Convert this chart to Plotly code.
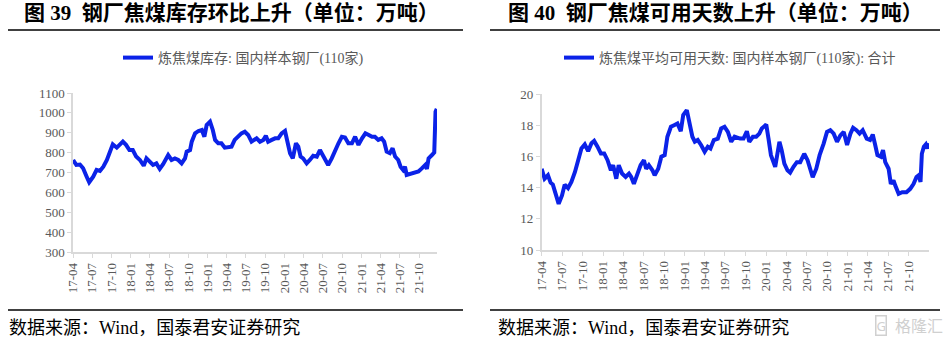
import plotly.graph_objects as go

# ---- data: weekly coking-coal readings, 110 sample steel mills ----
stock_dates = [
    "2017-04-02", "2017-04-17", "2017-05-04", "2017-05-19", "2017-06-05", "2017-06-17",
    "2017-07-06", "2017-07-22", "2017-08-07", "2017-08-23", "2017-09-09", "2017-09-24",
    "2017-10-07", "2017-10-26", "2017-11-11", "2017-11-24", "2017-12-09", "2017-12-25",
    "2018-01-10", "2018-01-26", "2018-02-13", "2018-03-03", "2018-03-16", "2018-04-01",
    "2018-04-16", "2018-05-02", "2018-05-18", "2018-06-03", "2018-06-27", "2018-07-13",
    "2018-07-29", "2018-08-14", "2018-08-30", "2018-09-15", "2018-09-23", "2018-10-09",
    "2018-10-17", "2018-11-02", "2018-11-18", "2018-12-04", "2018-12-16", "2018-12-27",
    "2019-01-12", "2019-01-25", "2019-02-05", "2019-02-20", "2019-03-07", "2019-03-23",
    "2019-04-08", "2019-04-24", "2019-05-09", "2019-05-25", "2019-06-10", "2019-06-26",
    "2019-07-12", "2019-07-28", "2019-08-21", "2019-09-06", "2019-09-22", "2019-10-04",
    "2019-10-15", "2019-11-01", "2019-11-17", "2019-12-02", "2019-12-18", "2020-01-03",
    "2020-01-14", "2020-01-27", "2020-02-09", "2020-02-24", "2020-03-06", "2020-03-17",
    "2020-03-29", "2020-04-15", "2020-04-30", "2020-05-16", "2020-06-02", "2020-06-17",
    "2020-06-30", "2020-07-15", "2020-07-26", "2020-08-12", "2020-08-28", "2020-09-13",
    "2020-09-29", "2020-10-14", "2020-10-30", "2020-11-16", "2020-12-01", "2020-12-17",
    "2021-01-03", "2021-01-19", "2021-02-04", "2021-02-19", "2021-03-05", "2021-03-21",
    "2021-04-06", "2021-04-18", "2021-04-30", "2021-05-15", "2021-05-28", "2021-06-09",
    "2021-06-24", "2021-07-05", "2021-07-17", "2021-07-26", "2021-08-03", "2021-08-19",
    "2021-09-12", "2021-09-28", "2021-10-14", "2021-10-30", "2021-11-07", "2021-11-15",
    "2021-12-01", "2021-12-12", "2021-12-18", "2021-12-24",
]
stock_values = [
    763, 738, 740, 721, 679, 651, 679, 713, 708, 729, 763, 805,
    842, 825, 839, 855, 839, 813,
    813, 780, 763, 734, 771, 755, 738, 746, 718, 742, 788, 763,
    771, 763, 746, 771, 805, 813, 855, 897, 909, 914, 880, 939,
    956, 914, 864, 847, 847, 825, 830, 830, 864, 880, 897, 905,
    889, 855, 872, 855, 864, 885, 855, 864, 872, 872, 897, 909,
    855, 797, 771, 847, 830, 780, 771, 746, 763, 784, 780, 813,
    788, 755, 738, 771, 813, 847, 880, 876, 847, 847, 880, 839,
    872, 897, 889, 880, 880, 864, 872, 855, 805, 797, 822, 780,
    763, 729, 713, 729, 688, 692, 696, 705, 721, 738, 718, 771,
    788, 801, 1006, 1020,
]

days_dates = [
    "2017-04-01", "2017-04-14", "2017-04-29", "2017-05-11", "2017-05-21", "2017-06-05",
    "2017-06-16", "2017-07-01", "2017-07-13", "2017-07-28", "2017-08-12", "2017-08-28",
    "2017-09-11", "2017-09-26", "2017-10-11", "2017-10-26", "2017-11-10", "2017-11-22",
    "2017-12-07", "2017-12-22", "2018-01-06", "2018-01-21", "2018-02-05", "2018-02-15",
    "2018-03-01", "2018-03-12", "2018-03-27", "2018-04-12", "2018-04-27", "2018-05-07",
    "2018-05-19", "2018-06-03", "2018-06-18", "2018-07-03", "2018-07-13", "2018-07-25",
    "2018-08-10", "2018-08-20", "2018-09-05", "2018-09-19", "2018-10-04", "2018-10-16",
    "2018-11-01", "2018-11-15", "2018-11-30", "2018-12-15", "2018-12-26", "2019-01-11",
    "2019-01-25", "2019-02-05", "2019-02-16", "2019-03-01", "2019-03-16", "2019-04-01",
    "2019-04-15", "2019-04-27", "2019-05-12", "2019-05-30", "2019-06-14", "2019-06-29",
    "2019-07-14", "2019-07-29", "2019-08-13", "2019-09-07", "2019-09-22", "2019-10-07",
    "2019-10-18", "2019-11-03", "2019-11-18", "2019-12-02", "2019-12-13", "2020-01-02",
    "2020-01-12", "2020-01-23", "2020-02-11", "2020-03-01", "2020-03-11", "2020-03-23",
    "2020-04-06", "2020-04-18", "2020-05-03", "2020-05-18", "2020-06-02", "2020-06-20",
    "2020-07-05", "2020-07-16", "2020-07-28", "2020-08-13", "2020-08-28", "2020-09-15",
    "2020-09-30", "2020-10-15", "2020-10-30", "2020-11-14", "2020-11-29", "2020-12-14",
    "2020-12-29", "2021-01-13", "2021-01-25", "2021-02-09", "2021-02-23", "2021-03-09",
    "2021-03-27", "2021-04-11", "2021-04-23", "2021-05-04", "2021-05-14", "2021-05-29",
    "2021-06-08", "2021-06-18", "2021-07-03", "2021-07-13", "2021-07-25", "2021-08-02",
    "2021-08-17", "2021-09-02", "2021-09-21", "2021-10-08", "2021-10-23", "2021-11-05",
    "2021-11-15", "2021-11-23", "2021-11-29", "2021-12-08", "2021-12-17", "2021-12-24",
    "2021-12-30",
]
days_values = [
    15.21, 14.57, 14.79, 14.32, 14.19, 13.38, 12.96, 13.50, 14.19, 13.97, 14.36, 15.00,
    15.76, 16.51, 16.77, 16.34, 16.84, 16.99, 16.62, 16.19, 16.19, 15.76, 15.11, 15.44,
    14.57, 15.44, 14.90, 14.68, 14.90, 14.68, 14.24, 14.79, 15.44, 15.76, 15.21, 15.44,
    15.11, 14.79, 15.21, 15.98, 16.08, 17.26, 17.90, 18.00, 18.11, 17.61, 18.65, 18.97,
    18.00, 17.26, 16.94, 17.05, 16.73, 16.30, 16.62, 16.51, 17.05, 17.14, 17.79, 17.90,
    17.57, 16.94, 17.26, 17.14, 17.14, 17.61, 16.94, 17.26, 17.26, 17.46, 17.79, 18.04,
    17.14, 16.08, 15.33, 16.94, 16.40, 15.53, 15.11, 14.96, 15.33, 15.63, 15.63, 16.17,
    15.76, 15.11, 14.66, 15.21, 16.08, 16.82, 17.57, 17.68, 17.46, 16.94, 17.35, 17.57,
    16.73, 17.46, 17.83, 17.68, 17.46, 17.68, 17.14, 17.05, 17.40, 16.73, 16.08, 15.98,
    16.40, 15.63, 15.21, 14.24, 14.46, 14.13, 13.60, 13.70, 13.70, 13.92, 14.24, 14.68,
    14.79, 14.36, 16.17, 16.62, 16.77, 16.51, 16.84,
]

stock_name = "炼焦煤库存: 国内样本钢厂(110家)"
days_name = "炼焦煤平均可用天数: 国内样本钢厂(110家): 合计"
titles = ["<b>图 39 \u00a0钢厂焦煤库存环比上升（单位：万吨）</b>",
          "<b>图 40 \u00a0钢厂焦煤可用天数上升（单位：万吨）</b>"]
source_text = "数据来源：Wind，国泰君安证券研究"

# ---- styling ----
W, H = 950, 340
BLUE = "#0B22E8"
AXIS_GREY = "#D9D9D9"
TICK_TEXT = "#595959"
SERIF = "Liberation Serif, Noto Sans CJK SC, serif"


def px_x(v):
    return v / W


def px_y(v):
    return 1 - v / H


fig = go.Figure()
fig.add_trace(go.Scatter(
    x=stock_dates, y=stock_values, mode="lines", name=stock_name,
    line=dict(color=BLUE, width=4), xaxis="x", yaxis="y", legend="legend",
))
fig.add_trace(go.Scatter(
    x=days_dates, y=days_values, mode="lines", name=days_name,
    line=dict(color=BLUE, width=4), xaxis="x2", yaxis="y2", legend="legend2",
))

xaxis_common = dict(
    type="date", tick0="2017-04-01", dtick="M3", tickformat="%y-%m",
    tickangle=-90, ticks="outside", ticklen=4, tickcolor=AXIS_GREY,
    showline=True, linecolor=AXIS_GREY, linewidth=1.5, showgrid=False,
    zeroline=False, automargin=False,
    tickfont=dict(family=SERIF, size=13, color=TICK_TEXT),
)
yaxis_common = dict(
    ticks="outside", ticklen=4, tickcolor=AXIS_GREY, showline=True,
    linecolor=AXIS_GREY, linewidth=1.5, showgrid=False, zeroline=False,
    automargin=False,
    tickfont=dict(family=SERIF, size=13, color=TICK_TEXT),
)

legend_common = dict(
    xanchor="left", yanchor="middle", bgcolor="rgba(0,0,0,0)",
    font=dict(family=SERIF, size=14, color=TICK_TEXT),
)

fig.update_layout(
    width=W, height=H, autosize=False,
    margin=dict(l=0, r=0, t=0, b=0, pad=0, autoexpand=False),
    paper_bgcolor="white", plot_bgcolor="white",
    showlegend=True,
    xaxis=dict(domain=[px_x(73), px_x(437)], anchor="y",
               range=["2017-04-01", "2021-12-25"], **xaxis_common),
    yaxis=dict(domain=[px_y(252), px_y(93)], anchor="x",
               range=[300, 1100], dtick=100, **yaxis_common),
    xaxis2=dict(domain=[px_x(541.7), px_x(929)], anchor="y2",
                range=["2017-04-01", "2021-12-31"], **xaxis_common),
    yaxis2=dict(domain=[px_y(250), px_y(94)], anchor="x2",
                range=[10, 20], dtick=2, **yaxis_common),
    legend=dict(x=px_x(118), y=px_y(58), **legend_common),
    legend2=dict(x=px_x(559), y=px_y(58), **legend_common),
)

annotations = []
shapes = []
# panel titles, rules and source lines
for title, tx, (lx0, lx1), sx in [
    (titles[0], 22, (8, 463), 7),
    (titles[1], 506, (490, 940), 496),
]:
    annotations.append(dict(
        text=title, xref="paper", yref="paper", x=px_x(tx), y=px_y(13.5),
        xanchor="left", yanchor="middle", showarrow=False,
        font=dict(family=SERIF, size=21, color="black"),
    ))
    annotations.append(dict(
        text=source_text, xref="paper", yref="paper", x=px_x(sx), y=px_y(327.5),
        xanchor="left", yanchor="middle", showarrow=False,
        font=dict(family=SERIF, size=18, color="black"),
    ))
    for ly in (30, 310):
        shapes.append(dict(
            type="line", xref="paper", yref="paper",
            x0=px_x(lx0), x1=px_x(lx1), y0=px_y(ly), y1=px_y(ly),
            line=dict(color="black", width=1.5),
        ))

# watermark
annotations.append(dict(
    text="G", xref="paper", yref="paper", x=px_x(875), y=px_y(325),
    xanchor="left", yanchor="middle", showarrow=False,
    font=dict(family="Noto Sans", size=13, color="#D0D0D0"),
    bordercolor="#D0D0D0", borderwidth=1.5, borderpad=0,
))
annotations.append(dict(
    text="格隆汇", xref="paper", yref="paper", x=px_x(893), y=px_y(325),
    xanchor="left", yanchor="middle", showarrow=False,
    font=dict(family="Noto Sans CJK SC", size=16, color="#D0D0D0"),
))

fig.update_layout(annotations=annotations, shapes=shapes)

fig.write_html("out.html")
